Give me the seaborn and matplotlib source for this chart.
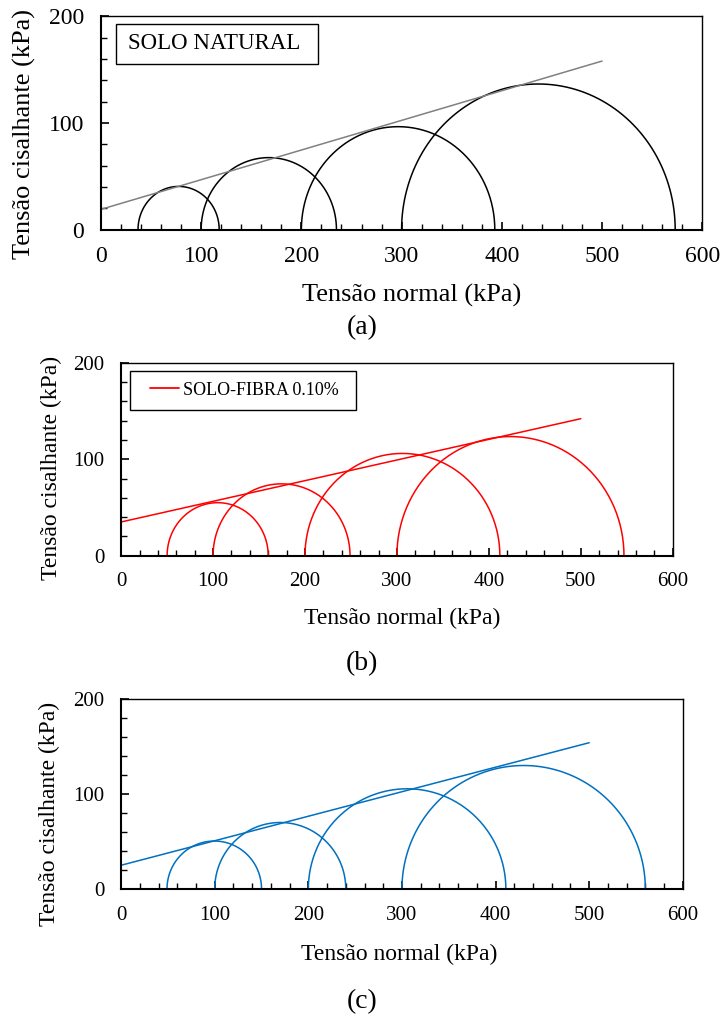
import numpy as np
import pandas as pd
import matplotlib
matplotlib.use("Agg")
import matplotlib.pyplot as plt
from matplotlib.patches import Rectangle
from matplotlib.lines import Line2D
from matplotlib.ticker import MultipleLocator
import seaborn as sns

# Mohr circles: minor / major principal stress (kPa)
nat_sigma3 = [37, 100, 200, 300]
nat_sigma1 = [118, 235, 393, 573]
nat_env_x = [0, 500]
nat_env_y = [19, 158]

fib_sigma3 = [50, 100, 200, 300]
fib_sigma1 = [160, 249, 412, 547]
fib_env_x = [0, 500]
fib_env_y = [35, 142]

fib2_sigma3 = [49, 100, 200, 300]
fib2_sigma1 = [150, 240, 411, 560]
fib2_env_x = [0, 500]
fib2_env_y = [25, 154]

panel_tags = ["(a)", "(b)", "(c)"]
x_label = "Tensão normal (kPa)"
y_label = "Tensão cisalhante (kPa)"

sns.set_theme(style="white")
plt.rcParams['font.family'] = ['Liberation Serif', 'DejaVu Serif']
plt.rcParams['text.color'] = 'black'
plt.rcParams['axes.labelcolor'] = 'black'
plt.rcParams['xtick.color'] = 'black'
plt.rcParams['ytick.color'] = 'black'


def circles_frame(s3, s1):
    """Semicircles of Mohr from the principal stresses."""
    rows = []
    theta = np.linspace(np.pi, 0, 181)
    for i, (a, b) in enumerate(zip(s3, s1)):
        c = (a + b) / 2.0
        r = (b - a) / 2.0
        rows.append(pd.DataFrame({'sigma': c + r * np.cos(theta),
                                  'tau': r * np.sin(theta),
                                  'circle': i}))
    return pd.concat(rows, ignore_index=True)


def style_axes(ax, tick_fs, label_fs, ylab_xy, xlab_xy):
    ax.set_xlim(0, 600)
    ax.set_ylim(0, 200)
    ax.xaxis.set_major_locator(MultipleLocator(100))
    ax.xaxis.set_minor_locator(MultipleLocator(20))
    ax.yaxis.set_major_locator(MultipleLocator(100))
    ax.yaxis.set_minor_locator(MultipleLocator(20))
    ax.tick_params(which='both', direction='in', bottom=True, left=True,
                   top=False, right=False, colors='black')
    ax.tick_params(which='major', length=6, width=1.2, labelsize=tick_fs, pad=12)
    ax.tick_params(which='minor', length=4, width=1.0)
    for side, sp in ax.spines.items():
        sp.set_visible(True)
        sp.set_color('black')
        sp.set_linewidth(1.5 if side in ('left', 'bottom') else 1.0)
    ax.set_xlabel(x_label, fontsize=label_fs, color='black')
    ax.set_ylabel(y_label, fontsize=label_fs, color='black')
    ax.yaxis.set_label_coords(*ylab_xy)
    ax.xaxis.set_label_coords(*xlab_xy)
    ax.grid(False)


fig = plt.figure(figsize=(7.21, 10.16), dpi=100)
ax_a = fig.add_axes([0.140, 0.774, 0.834, 0.210])
ax_b = fig.add_axes([0.168, 0.453, 0.765, 0.190])
ax_c = fig.add_axes([0.168, 0.125, 0.779, 0.187])

# (a) solo natural
df = circles_frame(nat_sigma3, nat_sigma1)
sns.lineplot(data=df, x='sigma', y='tau', units='circle', estimator=None,
             sort=False, color='black', linewidth=1.1, ax=ax_a, legend=False)
sns.lineplot(x=nat_env_x, y=nat_env_y, color='#808080', linewidth=1.1, ax=ax_a)
style_axes(ax_a, 17, 19, (-0.108, 0.45), (0.516, -0.253))
ax_a.add_patch(Rectangle((0.025, 0.776), 0.336, 0.187, transform=ax_a.transAxes,
                         fill=True, facecolor='white', edgecolor='black',
                         linewidth=1.0, zorder=5))
ax_a.text(0.045, 0.87, "SOLO NATURAL", transform=ax_a.transAxes, fontsize=16.5,
          va='center', ha='left', zorder=6)

# (b) solo-fibra 0.10%
df = circles_frame(fib_sigma3, fib_sigma1)
sns.lineplot(data=df, x='sigma', y='tau', units='circle', estimator=None,
             sort=False, color='#FF0000', linewidth=1.1, ax=ax_b, legend=False)
sns.lineplot(x=fib_env_x, y=fib_env_y, color='#FF0000', linewidth=1.1, ax=ax_b)
style_axes(ax_b, 15, 17, (-0.107, 0.453), (0.509, -0.27))
ax_b.add_patch(Rectangle((0.0163, 0.756), 0.409, 0.202, transform=ax_b.transAxes,
                         fill=True, facecolor='white', edgecolor='black',
                         linewidth=1.0, zorder=5))
leg = ax_b.legend([Line2D([], [], color='#FF0000', linewidth=1.3)],
                  ["SOLO-FIBRA 0.10%"], loc='center left',
                  bbox_to_anchor=(0.052, 0.857), frameon=False, fontsize=13,
                  borderpad=0, borderaxespad=0, handlelength=1.6,
                  handletextpad=0.25, labelcolor='black')
leg.set_zorder(6)

# (c)
df = circles_frame(fib2_sigma3, fib2_sigma1)
sns.lineplot(data=df, x='sigma', y='tau', units='circle', estimator=None,
             sort=False, color='#0070C0', linewidth=1.1, ax=ax_c, legend=False)
sns.lineplot(x=fib2_env_x, y=fib2_env_y, color='#0070C0', linewidth=1.1, ax=ax_c)
style_axes(ax_c, 15, 17, (-0.109, 0.397), (0.495, -0.289))

for tag, ypix in zip(panel_tags, [328, 664, 1002]):
    fig.text(362 / 721, 1 - ypix / 1016, tag, fontsize=20, ha='center',
             va='center', color='black')

fig.savefig('out.png', dpi=100)
